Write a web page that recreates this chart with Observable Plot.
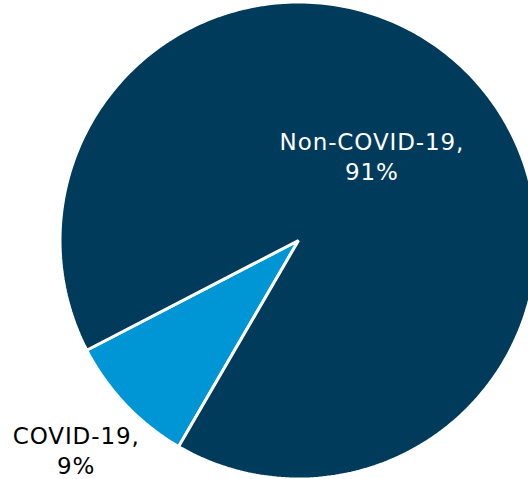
<!DOCTYPE html>
<html>
<head>
<meta charset="utf-8">
<script src="https://cdn.jsdelivr.net/npm/d3@7"></script>
<script src="https://cdn.jsdelivr.net/npm/@observablehq/plot@0.6"></script>
<style>
  html, body { margin: 0; padding: 0; background: #fff; overflow: hidden; }
</style>
</head>
<body>
<div id="chart"></div>
<script>
const categories = ["COVID-19", "Non-COVID-19"];
const shares = [9, 91];
const colors = ["#0096D6", "#003B5C"];
const startAngleDeg = 210.2;

const W = 528, H = 479;
const cx = 298, cy = 240, R = 238.5;

const total = d3.sum(shares);
let acc = startAngleDeg;
const slices = categories.map((c, i) => {
  const a0 = acc, a1 = acc + shares[i] / total * 360;
  acc = a1;
  return {category: c, share: shares[i], a0, a1, mid: (a0 + a1) / 2};
});

const toRad = d => d * Math.PI / 180;
const pts = [];
for (const s of slices) {
  pts.push({category: s.category, x: 0, y: 0});
  const n = Math.max(2, Math.ceil(s.a1 - s.a0));
  for (let k = 0; k <= n; k++) {
    const a = toRad(s.a0 + (s.a1 - s.a0) * k / n);
    pts.push({category: s.category, x: Math.sin(a), y: Math.cos(a)});
  }
}

// outside-end label for the small slice, inside label for the large one
const labelRadius = {"COVID-19": 1.287, "Non-COVID-19": 0.46};
const labels = slices.map(s => ({
  category: s.category,
  text: `${s.category},\n${s.share}%`,
  x: labelRadius[s.category] * Math.sin(toRad(s.mid)),
  y: labelRadius[s.category] * Math.cos(toRad(s.mid))
}));

const chart = Plot.plot({
  width: W,
  height: H,
  margin: 0,
  x: {axis: null, domain: [-cx / R, (W - cx) / R]},
  y: {axis: null, domain: [-(H - cy) / R, cy / R]},
  color: {domain: categories, range: colors},
  style: {fontFamily: "'DejaVu Sans', Verdana, sans-serif", background: "#fff", letterSpacing: "0.9px"},
  marks: [
    Plot.line(pts, {
      x: "x", y: "y", z: "category", fill: "category",
      stroke: "#fff", strokeWidth: 3, strokeLinejoin: "miter",
      curve: "linear-closed", clip: true
    }),
    Plot.text(labels.filter(d => d.category === "Non-COVID-19"), {
      x: "x", y: "y", text: "text", fill: "#ffffff",
      fontSize: 23, lineHeight: 1.3, textAnchor: "middle", dx: -6, dy: -9
    }),
    Plot.text(labels.filter(d => d.category === "COVID-19"), {
      x: "x", y: "y", text: "text", fill: "#000000",
      fontSize: 23, lineHeight: 1.3, textAnchor: "middle", dx: 0, dy: -3
    })
  ]
});
document.getElementById("chart").append(chart);
</script>
</body>
</html>
